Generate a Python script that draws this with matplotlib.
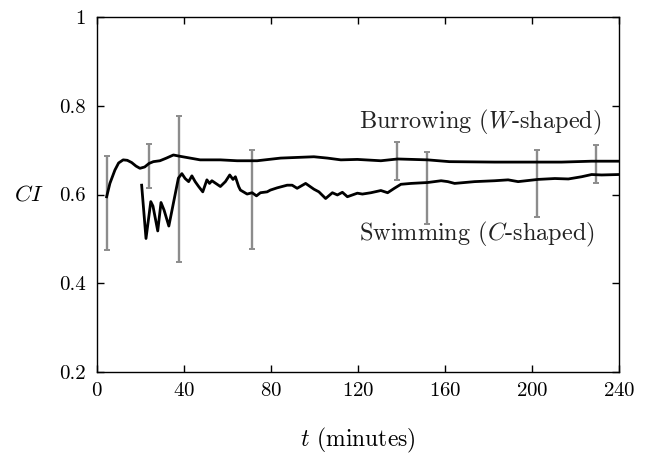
import numpy as np
import matplotlib
matplotlib.use("Agg")
import matplotlib.pyplot as plt

plt.rcParams['font.family'] = 'serif'
plt.rcParams['font.serif'] = ['cmr10', 'DejaVu Serif']
plt.rcParams['mathtext.fontset'] = 'cm'
plt.rcParams['axes.formatter.use_mathtext'] = True
plt.rcParams['axes.unicode_minus'] = False

# Burrowing (W-shaped) mean CI
t_burrow = [4.5, 6, 8.3, 10, 12.1, 14, 16, 18, 19.8, 22, 24, 26, 29, 32, 35.2, 38.3,
            42.9, 47.5, 56.8, 64.5, 73.7, 84.5, 99.8, 106, 112.2, 119.8, 130.6, 138.3,
            152.1, 162.1, 182.9, 201.4, 213.7, 227.5, 240]
ci_burrow = [0.595, 0.625, 0.655, 0.671, 0.678, 0.677, 0.672, 0.664, 0.659, 0.662, 0.670,
             0.674, 0.676, 0.682, 0.689, 0.686, 0.682, 0.678, 0.678, 0.676, 0.676, 0.682,
             0.685, 0.682, 0.678, 0.679, 0.676, 0.680, 0.678, 0.674, 0.673, 0.673, 0.673,
             0.675, 0.675]

# Swimming (C-shaped) mean CI
t_swim = [20.6, 22.6, 24.8, 25.8, 28.0, 29.5, 30.9, 33.1, 37.5, 39.1, 40.6, 42.2, 43.7,
          45.2, 46.8, 48.7, 50.6, 51.8, 52.9, 56.8, 59.1, 61.1, 62.6, 63.7, 65.2, 66,
          69.1, 71.4, 73.4, 75.2, 78.3, 79.8, 82.9, 87.5, 89.8, 92.1, 96.0, 99.8, 102.1,
          105.2, 108.3, 110.6, 112.9, 115.2, 119.8, 122.1, 126, 130.6, 133.7, 136.8,
          139.8, 144.5, 152.1, 158.3, 161.4, 164.5, 169.1, 173.7, 182.9, 189.1, 193.7,
          202.9, 210.6, 216.8, 222.9, 227.5, 232.1, 240]
ci_swim = [0.621, 0.501, 0.584, 0.574, 0.518, 0.582, 0.565, 0.529, 0.637, 0.647, 0.636,
           0.629, 0.642, 0.629, 0.618, 0.606, 0.633, 0.625, 0.631, 0.618, 0.629, 0.644,
           0.634, 0.640, 0.618, 0.610, 0.601, 0.604, 0.597, 0.604, 0.606, 0.610, 0.615,
           0.621, 0.621, 0.614, 0.625, 0.612, 0.606, 0.591, 0.604, 0.599, 0.605, 0.595,
           0.603, 0.601, 0.604, 0.609, 0.604, 0.614, 0.623, 0.625, 0.627, 0.631, 0.629,
           0.625, 0.627, 0.629, 0.631, 0.633, 0.629, 0.634, 0.636, 0.635, 0.640, 0.645,
           0.644, 0.645]

# error bars (min / max)
t_err = [4.45, 24, 38, 71.4, 138, 152, 202.6, 229.4]
err_lo = [0.475, 0.615, 0.448, 0.477, 0.633, 0.534, 0.549, 0.626]
err_hi = [0.687, 0.714, 0.777, 0.700, 0.718, 0.696, 0.700, 0.712]

fig = plt.figure(figsize=(6.5, 4.55), dpi=100)
ax = fig.add_axes([0.149, 0.182, 0.803, 0.781])

lo = np.array(err_lo)
hi = np.array(err_hi)
mid = (lo + hi) / 2
ax.errorbar(t_err, mid, yerr=[mid - lo, hi - mid], fmt='none', ecolor='#8c8c8c',
            elinewidth=1.7, capsize=2.5, capthick=1.4, zorder=1)

ax.plot(t_burrow, ci_burrow, 'k-', lw=2.0, zorder=2)
ax.plot(t_swim, ci_swim, 'k-', lw=2.0, zorder=2)

ax.text(120.5, 0.763, r'Burrowing ($W$-shaped)', fontsize=17.5, va='center', color='#222222')
ax.text(120.5, 0.509, r'Swimming ($C$-shaped)', fontsize=17.5, va='center', color='#222222')

ax.set_xlim(0, 240)
ax.set_ylim(0.2, 1)
ax.set_xticks([0, 40, 80, 120, 160, 200, 240])
ax.set_yticks([0.2, 0.4, 0.6, 0.8, 1])
ax.set_yticklabels(['0.2', '0.4', '0.6', '0.8', '1'])
ax.tick_params(direction='in', top=True, right=True, labelsize=15, length=5, width=1)
ax.tick_params(axis='x', pad=7)
ax.tick_params(axis='y', pad=8)
for s in ax.spines.values():
    s.set_linewidth(1.0)

ax.set_xlabel(r'$t$ (minutes)', fontsize=17, labelpad=19)
ax.set_ylabel(r'$CI$', fontsize=16.5, rotation=0, labelpad=22, va='center')

plt.savefig('out.png', dpi=100)
